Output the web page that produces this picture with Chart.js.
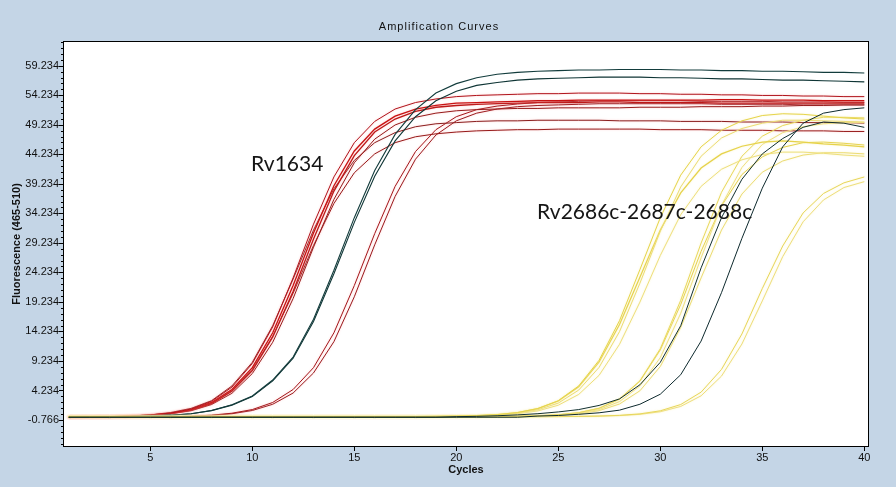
<!DOCTYPE html>
<html>
<head>
<meta charset="utf-8">
<script src="https://cdn.jsdelivr.net/npm/chart.js@4.4.1/dist/chart.umd.min.js"></script>
<style>
html,body{margin:0;padding:0;background:#c4d5e6;}
#wrap{width:896px;height:487px;position:relative;}
</style>
</head>
<body>
<div id="wrap"><canvas id="c"></canvas></div>
<script>
// ---------- data ----------
const cycles = [1,2,3,4,5,6,7,8,9,10,11,12,13,14,15,16,17,18,19,20,21,22,23,24,25,26,27,28,29,30,31,32,33,34,35,36,37,38,39,40];
const xTickValues = [5,10,15,20,25,30,35,40];
const yTickLabels = ['-0.766','4.234','9.234','14.234','19.234','24.234','29.234','34.234','39.234','44.234','49.234','54.234','59.234'];

// Rv1634 (red)
const rv1634_a = [-0.3,-0.25,-0.2,-0.1,0.1,0.4,1.1,2.4,4.8,8.8,15.0,23.3,32.4,40.4,46.2,49.8,51.9,53.0,53.6,54.0,54.2,54.3,54.4,54.5,54.5,54.6,54.6,54.6,54.5,54.5,54.4,54.4,54.3,54.3,54.2,54.2,54.1,54.1,54.0,54.0];
const rv1634_b = [-0.3,-0.25,-0.2,-0.1,0.05,0.4,1.0,2.2,4.4,8.1,14.0,22.0,30.9,38.9,44.8,48.5,50.7,51.9,52.5,52.9,53.0,53.1,53.2,53.3,53.3,53.4,53.4,53.4,53.4,53.4,53.4,53.4,53.5,53.5,53.4,53.4,53.4,53.3,53.3,53.3];
const rv1634_c = [-0.3,-0.26,-0.2,-0.15,0.0,0.3,0.9,2.0,4.1,7.6,13.3,21.0,29.9,38.0,44.0,48.0,50.2,51.5,52.2,52.5,52.7,52.8,52.9,53.0,53.0,53.0,53.1,53.1,53.0,53.0,53.0,53.0,52.9,52.9,52.9,52.9,52.9,52.9,52.9,52.9];
const rv1634_d = [-0.3,-0.26,-0.22,-0.15,0.0,0.3,0.8,1.85,3.75,7.1,12.4,19.8,28.5,36.6,42.8,46.8,49.2,50.5,51.2,51.6,51.8,51.9,52.0,52.0,52.1,52.1,52.1,52.1,52.2,52.2,52.2,52.3,52.3,52.3,52.4,52.4,52.5,52.5,52.6,52.6];
const rv1634_e = [-0.28,-0.25,-0.2,-0.1,0.1,0.5,1.2,2.5,5.0,9.0,15.2,23.1,31.4,38.4,43.2,46.2,47.9,48.9,49.4,49.6,49.8,49.9,49.9,50.0,50.0,50.0,50.0,49.9,49.9,49.9,49.8,49.8,49.8,49.7,49.7,49.7,49.6,49.6,49.6,49.5];
const rv1634_f = [-0.28,-0.25,-0.21,-0.13,0.04,0.36,0.96,2.1,4.2,7.8,13.4,20.7,28.8,35.9,41.1,44.3,46.2,47.2,47.7,48.0,48.2,48.3,48.4,48.4,48.5,48.5,48.5,48.5,48.5,48.4,48.4,48.4,48.3,48.3,48.3,48.2,48.2,48.2,48.1,48.1];
const rv1634_g = [-0.3,-0.3,-0.29,-0.28,-0.25,-0.21,-0.12,0.05,0.38,1.0,2.2,4.4,8.1,14.0,22.0,30.8,38.8,44.7,48.4,50.6,51.8,52.4,52.75,53.0,53.1,53.2,53.3,53.3,53.3,53.3,53.3,53.2,53.2,53.2,53.2,53.1,53.1,53.1,53.0,53.0];
const rv1634_h = [-0.3,-0.3,-0.29,-0.28,-0.26,-0.22,-0.15,0.0,0.29,0.84,1.9,3.8,7.2,12.5,20.1,28.9,37.1,43.4,47.5,49.9,51.2,51.9,52.3,52.5,52.6,52.7,52.8,52.8,52.8,52.8,52.8,52.8,52.7,52.7,52.7,52.7,52.6,52.6,52.6,52.6];
// Rv1634 (dark)
const rv1634_dark1 = [-0.28,-0.26,-0.24,-0.19,-0.1,0.05,0.3,0.85,1.8,3.3,6.0,9.9,16.3,24.6,33.5,41.5,47.6,51.8,54.6,56.2,57.2,57.8,58.1,58.3,58.4,58.5,58.5,58.6,58.6,58.6,58.5,58.5,58.4,58.4,58.3,58.3,58.2,58.1,58.1,58.0];
const rv1634_dark2 = [-0.28,-0.26,-0.24,-0.19,-0.1,0.05,0.3,0.82,1.75,3.2,5.85,9.7,15.9,24.0,32.7,40.5,46.5,50.6,53.3,54.9,55.9,56.4,56.8,57.0,57.1,57.2,57.3,57.3,57.3,57.2,57.2,57.1,57.0,57.0,56.9,56.8,56.8,56.7,56.6,56.5];

// Rv2686c-2687c-2688c (yellow)
const rv2686_a1 = [-0.2,-0.2,-0.2,-0.2,-0.2,-0.2,-0.2,-0.2,-0.2,-0.2,-0.2,-0.2,-0.2,-0.2,-0.2,-0.2,-0.2,-0.19,-0.16,-0.12,-0.03,0.14,0.49,1.17,2.5,5.0,9.35,16.05,24.7,33.5,40.7,45.5,48.3,49.9,50.8,51.1,51.0,50.7,50.4,50.2];
const rv2686_a2 = [-0.2,-0.2,-0.2,-0.2,-0.2,-0.2,-0.2,-0.2,-0.2,-0.2,-0.2,-0.2,-0.2,-0.2,-0.2,-0.2,-0.2,-0.2,-0.17,-0.13,-0.05,0.09,0.39,0.97,2.1,4.3,8.15,14.2,22.4,31.2,38.7,43.9,47.0,48.6,49.5,50.0,50.0,49.9,49.8,49.7];
const rv2686_a3 = [-0.2,-0.2,-0.2,-0.2,-0.2,-0.2,-0.2,-0.2,-0.2,-0.2,-0.2,-0.2,-0.2,-0.2,-0.2,-0.2,-0.2,-0.2,-0.16,-0.12,-0.03,0.13,0.47,1.15,2.45,4.85,9.05,15.4,23.4,31.4,37.7,41.9,44.3,45.6,46.3,46.5,46.3,46.0,45.8,45.5];
const rv2686_a4 = [-0.2,-0.2,-0.2,-0.2,-0.2,-0.2,-0.2,-0.2,-0.2,-0.2,-0.2,-0.2,-0.2,-0.2,-0.2,-0.2,-0.2,-0.2,-0.18,-0.14,-0.08,0.04,0.29,0.78,1.74,3.56,6.8,12.05,19.2,27.1,34.0,38.8,41.7,43.3,44.2,44.6,44.6,44.4,44.1,43.9];
const rv2686_b1 = [-0.2,-0.2,-0.2,-0.2,-0.2,-0.2,-0.2,-0.2,-0.2,-0.2,-0.2,-0.2,-0.2,-0.2,-0.2,-0.2,-0.2,-0.2,-0.2,-0.2,-0.2,-0.17,-0.13,-0.05,0.12,0.47,1.23,2.8,5.87,11.3,19.5,29.2,37.8,43.9,47.3,49.1,50.0,50.5,50.5,50.4];
const rv2686_b2 = [-0.2,-0.2,-0.2,-0.2,-0.2,-0.2,-0.2,-0.2,-0.2,-0.2,-0.2,-0.2,-0.2,-0.2,-0.2,-0.2,-0.2,-0.2,-0.2,-0.2,-0.2,-0.18,-0.15,-0.08,0.07,0.37,1.0,2.35,5.0,9.8,17.3,26.7,35.6,42.0,45.9,47.9,48.9,49.4,49.6,49.6];
const rv2686_b3 = [-0.2,-0.2,-0.2,-0.2,-0.2,-0.2,-0.2,-0.2,-0.2,-0.2,-0.2,-0.2,-0.2,-0.2,-0.2,-0.2,-0.2,-0.2,-0.2,-0.2,-0.2,-0.17,-0.13,-0.05,0.11,0.47,1.2,2.76,5.8,11.1,18.8,27.8,35.5,40.8,43.8,45.4,46.2,46.3,46.1,45.8];
const rv2686_b4 = [-0.2,-0.2,-0.2,-0.2,-0.2,-0.2,-0.2,-0.2,-0.2,-0.2,-0.2,-0.2,-0.2,-0.2,-0.2,-0.2,-0.2,-0.2,-0.2,-0.2,-0.2,-0.2,-0.16,-0.1,0.02,0.27,0.82,1.94,4.18,8.3,14.9,23.3,31.4,37.5,41.2,43.1,44.1,44.5,44.5,44.3];
const rv2686_c1 = [-0.2,-0.2,-0.2,-0.2,-0.2,-0.2,-0.2,-0.2,-0.2,-0.2,-0.2,-0.2,-0.2,-0.2,-0.2,-0.2,-0.2,-0.2,-0.2,-0.2,-0.2,-0.2,-0.2,-0.2,-0.18,-0.15,-0.1,0.02,0.27,0.79,1.85,3.95,7.8,13.8,21.5,28.7,34.3,37.6,39.4,40.4];
const rv2686_c2 = [-0.2,-0.2,-0.2,-0.2,-0.2,-0.2,-0.2,-0.2,-0.2,-0.2,-0.2,-0.2,-0.2,-0.2,-0.2,-0.2,-0.2,-0.2,-0.2,-0.2,-0.2,-0.2,-0.2,-0.2,-0.2,-0.16,-0.11,-0.02,0.19,0.63,1.53,3.33,6.67,12.1,19.4,26.9,32.8,36.5,38.6,39.6];
// Rv2686c-2687c-2688c (dark)
const rv2686_dark1 = [-0.3,-0.3,-0.3,-0.3,-0.3,-0.3,-0.3,-0.3,-0.3,-0.3,-0.3,-0.3,-0.3,-0.3,-0.3,-0.3,-0.3,-0.3,-0.3,-0.2,-0.15,-0.05,0.1,0.3,0.6,1.0,1.7,2.8,5.2,9.0,15.2,25.0,33.5,40.0,44.3,46.9,48.8,49.7,49.5,48.8];
const rv2686_dark2 = [-0.3,-0.3,-0.3,-0.3,-0.3,-0.3,-0.3,-0.3,-0.3,-0.3,-0.3,-0.3,-0.3,-0.3,-0.3,-0.3,-0.3,-0.3,-0.3,-0.3,-0.3,-0.3,-0.3,-0.1,0.0,0.2,0.45,0.9,1.9,3.6,6.9,12.6,20.8,30.0,38.5,45.5,49.5,51.2,51.8,52.1];

// ---------- chart ----------
function pts(arr){ return arr.map((v,i)=>({x:cycles[i], y:v})); }
function ds(arr, color, width, halo){
  return {data:pts(arr), borderColor:color, borderWidth:width, pointRadius:0, tension:0, fill:false, halo:halo};
}
const RED_HALO='rgba(255,150,150,0.5)', YEL_HALO='rgba(248,240,170,0.7)';
const datasets = [
  ds(rv2686_dark2,'#0e2a2e',1,null),
  ds(rv2686_dark1,'#12302f',1,null),
  ds(rv2686_a1,'#e6d44a',1,YEL_HALO),
  ds(rv2686_a2,'#ecdc74',1,YEL_HALO),
  ds(rv2686_a3,'#e6d24a',1.2,YEL_HALO),
  ds(rv2686_a4,'#eedf7c',1,YEL_HALO),
  ds(rv2686_b1,'#e9d85c',1,YEL_HALO),
  ds(rv2686_b2,'#efe082',1,YEL_HALO),
  ds(rv2686_b3,'#e6d24c',1,YEL_HALO),
  ds(rv2686_b4,'#ecdc74',1,YEL_HALO),
  ds(rv2686_c1,'#e8d65a',1,YEL_HALO),
  ds(rv2686_c2,'#eede7c',1,YEL_HALO),
  ds(rv1634_dark1,'#123c3c',1.1,null),
  ds(rv1634_dark2,'#0f3535',1.1,null),
  ds(rv1634_a,'#b0141c',1,RED_HALO),
  ds(rv1634_b,'#c81212',1.3,RED_HALO),
  ds(rv1634_c,'#bb1616',1.3,RED_HALO),
  ds(rv1634_d,'#961c1c',1,RED_HALO),
  ds(rv1634_e,'#8a1e1e',1,RED_HALO),
  ds(rv1634_f,'#961a1a',1,RED_HALO),
  ds(rv1634_g,'#a4181c',1,RED_HALO),
  ds(rv1634_h,'#9a1a1e',1,RED_HALO)
];

const Y_MIN=-5.34, Y_MAX=63.42, X_MIN=0.72, X_MAX=40.23;
const BG='#c4d5e6';

const framePlugin = {
  id:'frame',
  beforeDraw(chart){
    const {ctx, chartArea:a} = chart;
    ctx.save();
    ctx.fillStyle=BG; ctx.fillRect(0,0,chart.width,chart.height);
    ctx.fillStyle='#ffffff'; ctx.fillRect(a.left,a.top,a.right-a.left,a.bottom-a.top);
    ctx.restore();
  },
  beforeDatasetDraw(chart,args){
    const h = chart.data.datasets[args.index].halo;
    chart.ctx.save();
    if(h){ chart.ctx.shadowColor=h; chart.ctx.shadowBlur=2; }
  },
  afterDatasetDraw(chart){ chart.ctx.restore(); },
  afterDatasetsDraw(chart){
    const ctx=chart.ctx;
    ctx.save();
    ctx.fillStyle='#151515';
    ctx.font='21px Lato, "Noto Sans", sans-serif';
    ctx.textBaseline='alphabetic'; ctx.textAlign='left';
    ctx.fillText('Rv1634',251,171);
    ctx.fillText('Rv2686c-2687c-2688c',537,219);
    ctx.restore();
  },
  afterDraw(chart){
    const {ctx, chartArea:a, scales:{x,y}} = chart;
    ctx.save();
    ctx.strokeStyle='#000'; ctx.lineWidth=1;
    ctx.strokeRect(Math.round(a.left)+0.5, Math.round(a.top)+0.5, Math.round(a.right-a.left)-1, Math.round(a.bottom-a.top)-1);
    // y ticks (major every 5, minor every 1)
    ctx.beginPath();
    for(let v=-4.766; v<=Y_MAX; v+=1){
      const p=Math.round(y.getPixelForValue(v))+0.5;
      const major = Math.abs(((v+0.766)/5)-Math.round((v+0.766)/5))<1e-6;
      ctx.moveTo(a.left-(major?4:2), p); ctx.lineTo(a.left, p);
    }
    for(const v of xTickValues){
      const p=Math.round(x.getPixelForValue(v))+0.5;
      ctx.moveTo(p, a.bottom); ctx.lineTo(p, a.bottom+4);
    }
    ctx.stroke();
    // titles
    ctx.fillStyle='#111';
    ctx.textAlign='center'; ctx.textBaseline='middle';
    ctx.font='11px "Liberation Sans", Arial, sans-serif';
    try{ ctx.letterSpacing='1px'; }catch(e){}
    ctx.fillText('Amplification Curves',439,27);
    try{ ctx.letterSpacing='0px'; }catch(e){}
    ctx.font='bold 11px "Liberation Sans", Arial, sans-serif';
    ctx.fillText('Cycles',(a.left+a.right)/2,470);
    ctx.translate(17,(a.top+a.bottom)/2);
    ctx.rotate(-Math.PI/2);
    ctx.fillText('Fluorescence (465-510)',0,0);
    ctx.restore();
  }
};

new Chart(document.getElementById('c'), {
  type:'line',
  data:{datasets},
  options:{
    responsive:true, maintainAspectRatio:false, animation:false,
    devicePixelRatio:1,
    layout:{padding:{left:0,right:27,top:41,bottom:0}},
    plugins:{legend:{display:false}, title:{display:false}, tooltip:{enabled:false}},
    scales:{
      x:{type:'linear', min:X_MIN, max:X_MAX,
        afterFit(s){ s.height=40; },
        afterBuildTicks(s){ s.ticks = xTickValues.map(v=>({value:v})); },
        grid:{display:false, drawTicks:false}, border:{display:false},
        ticks:{padding:4, autoSkip:false, maxRotation:0, color:'#111',
          font:{family:'"Liberation Sans", Arial, sans-serif', size:11},
          callback:(v)=>String(v)}
      },
      y:{type:'linear', min:Y_MIN, max:Y_MAX,
        afterFit(s){ s.width=63; },
        afterBuildTicks(s){ s.ticks = yTickLabels.map(t=>({value:parseFloat(t)})); },
        grid:{display:false, drawTicks:false}, border:{display:false},
        ticks:{padding:4, autoSkip:false, color:'#111',
          font:{family:'"Liberation Sans", Arial, sans-serif', size:11},
          callback:(v)=>{ const i=yTickLabels.findIndex(t=>Math.abs(parseFloat(t)-v)<1e-6); return i>=0?yTickLabels[i]:''; }}
      }
    }
  },
  plugins:[framePlugin]
});
</script>
</body>
</html>
